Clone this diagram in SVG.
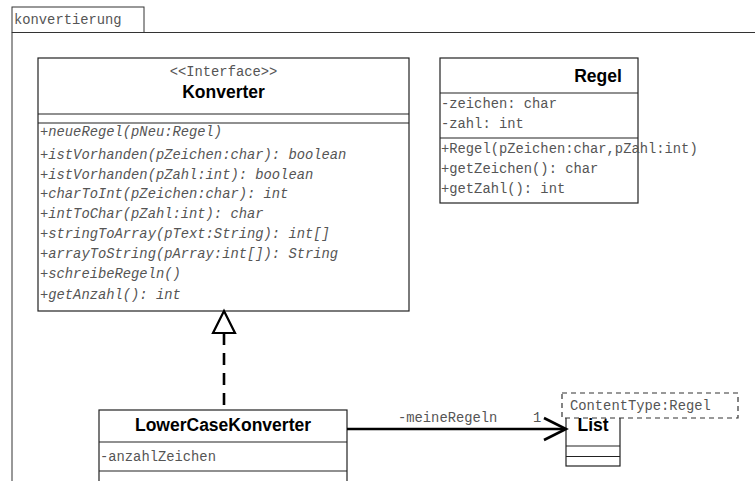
<svg xmlns="http://www.w3.org/2000/svg" width="755" height="481" viewBox="0 0 755 481">
<style>
.box{fill:#fff;stroke:#222;stroke-width:1.2}
.sep{stroke:#222;stroke-width:1.2}
.mono{font-family:"Liberation Mono","DejaVu Sans Mono",monospace;font-size:13.8px;fill:#555}
.ital{font-style:italic}
.title{font-family:"Liberation Sans",Arial,sans-serif;font-weight:bold;font-size:17.5px;fill:#000}
.edge{stroke:#000;stroke-width:2.6;fill:none}
</style>
<rect width="755" height="481" fill="#fff"/>
<g id="package">
<rect x="12" y="7" width="132" height="25.5" fill="#fff" stroke="#333" stroke-width="1"/>
<path d="M12 32.5 H755 M12 32.5 V481" stroke="#333" stroke-width="1" fill="none"/>
<text class="mono" x="14" y="24">konvertierung</text>
</g>
<g id="Konverter">
<rect class="box" x="38" y="58" width="371" height="253"/>
<line class="sep" x1="38" y1="114" x2="409" y2="114"/>
<line class="sep" x1="38" y1="123" x2="409" y2="123"/>
<text class="mono" x="223.5" y="76" text-anchor="middle" font-size="13.5">&lt;&lt;Interface&gt;&gt;</text>
<text class="title" x="223.5" y="98" text-anchor="middle">Konverter</text>
<g class="mono ital">
<text x="40" y="136">+neueRegel(pNeu:Regel)</text>
<text x="40" y="159">+istVorhanden(pZeichen:char): boolean</text>
<text x="40" y="179">+istVorhanden(pZahl:int): boolean</text>
<text x="40" y="198">+charToInt(pZeichen:char): int</text>
<text x="40" y="218">+intToChar(pZahl:int): char</text>
<text x="40" y="238">+stringToArray(pText:String): int[]</text>
<text x="40" y="258">+arrayToString(pArray:int[]): String</text>
<text x="40" y="278">+schreibeRegeln()</text>
<text x="40" y="299">+getAnzahl(): int</text>
</g>
</g>
<g id="Regel">
<rect class="box" x="440" y="58" width="198" height="145"/>
<line class="sep" x1="440" y1="93" x2="638" y2="93"/>
<line class="sep" x1="440" y1="138" x2="638" y2="138"/>
<text class="title" x="598" y="82" text-anchor="middle" font-size="18.5">Regel</text>
<g class="mono">
<text x="441" y="108">-zeichen: char</text>
<text x="441" y="128">-zahl: int</text>
<text x="441" y="153">+Regel(pZeichen:char,pZahl:int)</text>
<text x="441" y="173">+getZeichen(): char</text>
<text x="441" y="193">+getZahl(): int</text>
</g>
</g>
<g id="LowerCaseKonverter">
<rect class="box" x="99" y="410" width="248" height="90"/>
<line class="sep" x1="99" y1="442" x2="347" y2="442"/>
<line class="sep" x1="99" y1="471" x2="347" y2="471"/>
<text class="title" x="223" y="431" text-anchor="middle">LowerCaseKonverter</text>
<text class="mono" x="100" y="461">-anzahlZeichen</text>
</g>
<g id="List">
<rect class="box" x="566" y="410" width="54" height="56"/>
<line class="sep" x1="566" y1="446" x2="620" y2="446"/>
<line class="sep" x1="566" y1="456.5" x2="620" y2="456.5"/>
<text class="title" x="593" y="431" text-anchor="middle" font-size="17">List</text>
<rect x="562" y="393" width="176" height="25" fill="#fff" stroke="#333" stroke-width="1.2" stroke-dasharray="5 4"/>
<text class="mono" x="570" y="410">ContentType:Regel</text>
</g>
<g id="connectors">
<line class="edge" x1="224" y1="333" x2="224" y2="410" stroke-dasharray="12 8"/>
<polygon points="224,311 213,333 235,333" fill="#fff" stroke="#000" stroke-width="2.2" stroke-linejoin="miter"/>
<line class="edge" x1="347" y1="429" x2="565" y2="429"/>
<polyline class="edge" points="544,418 566,429 544,440"/>
<text class="mono" x="398" y="422">-meineRegeln</text>
<text class="mono" x="533" y="422">1</text>
</g>
</svg>
